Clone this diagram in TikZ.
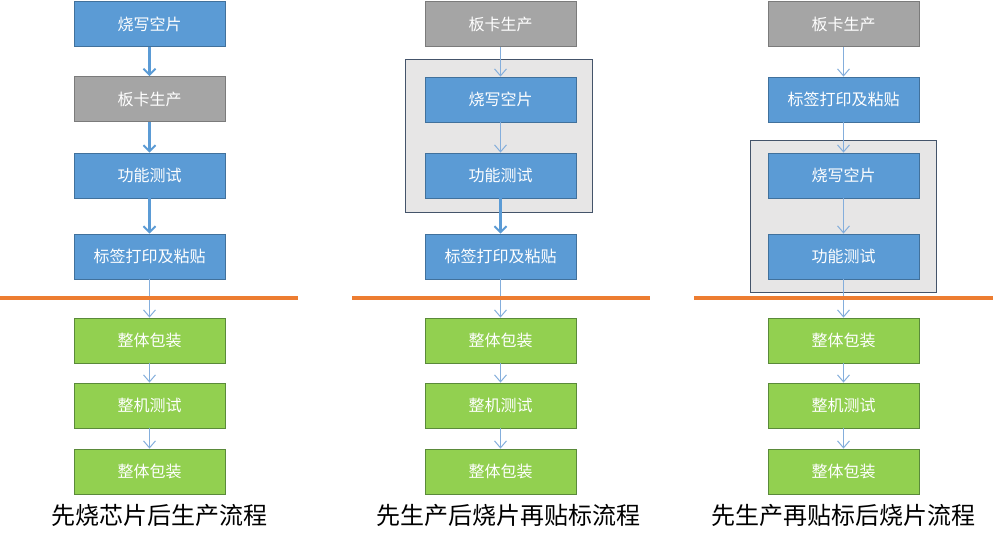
\documentclass[tikz,border=0pt]{standalone}
\usepackage{fontspec}
\setmainfont{Noto Sans CJK SC}
\usetikzlibrary{arrows.meta}
\definecolor{bfill}{HTML}{5B9BD5}
\definecolor{bdraw}{HTML}{41719C}
\definecolor{gfill}{HTML}{A5A5A5}
\definecolor{gdraw}{HTML}{7B7B7B}
\definecolor{lfill}{HTML}{92D050}
\definecolor{ldraw}{HTML}{5A8A3A}
\definecolor{grpfill}{HTML}{E7E6E6}
\definecolor{grpdraw}{HTML}{44546A}
\definecolor{arrc}{HTML}{5B9BD5}
\definecolor{thinc}{HTML}{84AEDC}
\definecolor{orangec}{HTML}{ED7D31}
\begin{document}
\begin{tikzpicture}[x=1pt,y=-1pt,
  boxbase/.style={minimum width=151pt,minimum height=45pt,inner sep=0pt,line width=0.8pt,
    text=white,font=\fontsize{16}{16}\selectfont},
  bluebox/.style={boxbase,fill=bfill,draw=bdraw},
  graybox/.style={boxbase,fill=gfill,draw=gdraw},
  greenbox/.style={boxbase,fill=lfill,draw=ldraw},
  grpbox/.style={fill=grpfill,draw=grpdraw,line width=0.8pt},
  thickarr/.style={draw=arrc,line width=2.4pt,-{Straight Barb[length=6pt,width=12pt,line width=2pt]}},
  thinarr/.style={draw=thinc,line width=1pt,-{Straight Barb[length=7pt,width=12pt,line width=1pt]}},
  sepline/.style={draw=orangec,line width=4pt},
  titletxt/.style={font=\fontsize{24}{24}\selectfont,inner sep=0pt}
]
\useasboundingbox (0,0) rectangle (993,541);

% group boxes
\draw[grpbox] (405,59) rectangle (592,212);
\draw[grpbox] (750,140) rectangle (936,292);

% column 1
\node[bluebox]  (a1) at (149.5,24)  {烧写空片};
\node[graybox]  (a2) at (149.5,99)  {板卡生产};
\node[bluebox]  (a3) at (149.5,175.5) {功能测试};
\node[bluebox]  (a4) at (149.5,256.5) {标签打印及粘贴};
\node[greenbox] (a5) at (149.5,340.5) {整体包装};
\node[greenbox] (a6) at (149.5,405.5) {整机测试};
\node[greenbox] (a7) at (149.5,471.5) {整体包装};

% column 2
\node[graybox]  (b1) at (500.5,24)  {板卡生产};
\node[bluebox]  (b2) at (500.5,99.5)  {烧写空片};
\node[bluebox]  (b3) at (500.5,175.5) {功能测试};
\node[bluebox]  (b4) at (500.5,256.5) {标签打印及粘贴};
\node[greenbox] (b5) at (500.5,340.5) {整体包装};
\node[greenbox] (b6) at (500.5,405.5) {整机测试};
\node[greenbox] (b7) at (500.5,471.5) {整体包装};

% column 3
\node[graybox]  (c1) at (843.5,24)  {板卡生产};
\node[bluebox]  (c2) at (843.5,99.5)  {标签打印及粘贴};
\node[bluebox]  (c3) at (843.5,175.5) {烧写空片};
\node[bluebox]  (c4) at (843.5,256.5) {功能测试};
\node[greenbox] (c5) at (843.5,340.5) {整体包装};
\node[greenbox] (c6) at (843.5,405.5) {整机测试};
\node[greenbox] (c7) at (843.5,471.5) {整体包装};

% arrows column 1
\draw[thickarr] (a1) -- (a2);
\draw[thickarr] (a2) -- (a3);
\draw[thickarr] (a3) -- (a4);
\draw[thinarr] (a4) -- (a5);
\draw[thinarr] (a5) -- (a6);
\draw[thinarr] (a6) -- (a7);

% arrows column 2
\draw[thinarr] (b1) -- (b2);
\draw[thinarr] (b2) -- (b3);
\draw[thickarr] (b3) -- (b4);
\draw[thinarr] (b4) -- (b5);
\draw[thinarr] (b5) -- (b6);
\draw[thinarr] (b6) -- (b7);

% arrows column 3
\draw[thinarr] (c1) -- (c2);
\draw[thinarr] (c2) -- (c3);
\draw[thinarr] (c3) -- (c4);
\draw[thinarr] (c4) -- (c5);
\draw[thinarr] (c5) -- (c6);
\draw[thinarr] (c6) -- (c7);

% separator lines
\draw[sepline] (0,298) -- (298,298);
\draw[sepline] (352,298) -- (650,298);
\draw[sepline] (694,298) -- (993,298);

% titles
\node[titletxt] (t1) at (159,515) {先烧芯片后生产流程};
\node[titletxt] (t2) at (508,515) {先生产后烧片再贴标流程};
\node[titletxt] (t3) at (843,515) {先生产再贴标后烧片流程};
\end{tikzpicture}
\end{document}
